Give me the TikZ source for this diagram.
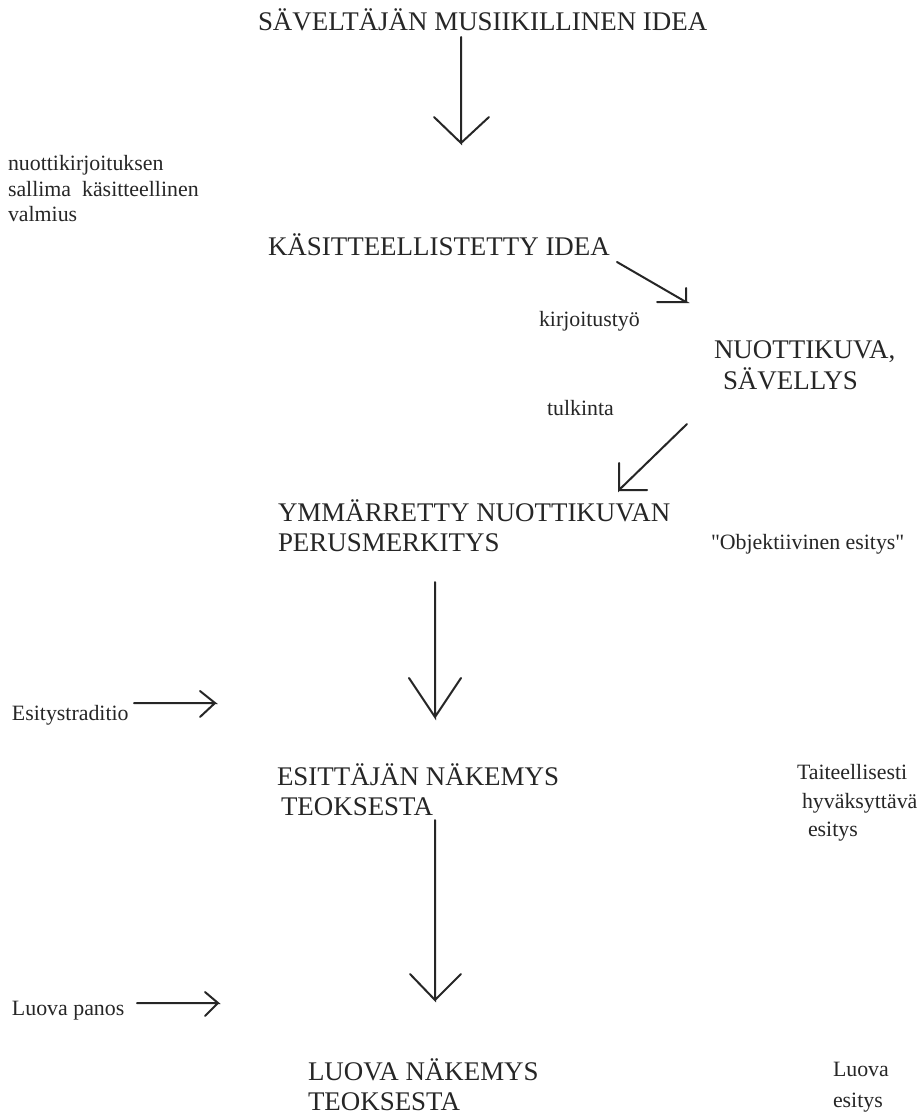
\documentclass[tikz,border=0pt]{standalone}
\usepackage{fontspec}
\setmainfont{Liberation Serif}
\newfontfamily\plainserif{Liberation Serif}
\definecolor{ink}{RGB}{38,38,38}
\begin{document}
\begin{tikzpicture}[x=0.75pt,y=-0.75pt,
  txt/.style={anchor=base west, inner sep=0pt, outer sep=0pt, text=ink},
  big/.style={txt, font=\fontsize{20.2}{24}\selectfont},
  small/.style={txt, font=\fontsize{16.4}{19}\selectfont},
  conn/.style={draw=ink, line width=1.5pt, line cap=round, line join=miter}]
\useasboundingbox[fill=white] (0,0) rectangle (923,1114);

% main column
\node[big] (idea)   at (258,30)  {SÄVELTÄJÄN MUSIIKILLINEN IDEA};
\node[big] (kasit)  at (268,255) {KÄSITTEELLISTETTY IDEA};
\node[big] (nuotti) at (714,358) {NUOTTIKUVA,};
\node[big] (savel)  at (723,389) {SÄVELLYS};
\node[big] (ymm)    at (278,521) {YMMÄRRETTY NUOTTIKUVAN};
\node[big] (perus)  at (278,551) {PERUSMERKITYS};
\node[big] (esitt)  at (277,785) {ESITTÄJÄN NÄKEMYS};
\node[big] (teos1)  at (281,815) {TEOKSESTA};
\node[big] (luova)  at (308,1080) {LUOVA NÄKEMYS};
\node[big] (teos2)  at (308,1110) {TEOKSESTA};

% side labels
\node[small] (note1) at (8,170) {nuottikirjoituksen};
\node[small] (note2) at (8,196) {sallima\ \ käsitteellinen};
\node[small] (note3) at (8,221) {valmius};
\node[small] (kirj)  at (539,326) {kirjoitustyö};
\node[small] (tulk)  at (547,415) {tulkinta};
\node[small, font=\plainserif\fontsize{16.4}{19}\selectfont] (obj) at (711,549) {"Objektiivinen esitys"};
\node[small] (trad)  at (12,720) {Esitystraditio};
\node[small] (taite) at (797,779) {Taiteellisesti};
\node[small] (hyva)  at (802,808) {hyväksyttävä};
\node[small] (esit1) at (808,836) {esitys};
\node[small] (panos) at (12,1015) {Luova panos};
\node[small] (luovr) at (833,1076) {Luova};
\node[small] (esit2) at (833,1107) {esitys};

% arrow end points
\coordinate (a1s) at (461,37);  \coordinate (a1e) at (461,143);
\coordinate (a2s) at (617,262); \coordinate (a2e) at (686,302);
\coordinate (a3s) at (687,424); \coordinate (a3e) at (619,490);
\coordinate (a4s) at (435,582); \coordinate (a4e) at (435,717);
\coordinate (a5s) at (435,820); \coordinate (a5e) at (435,1000);
\coordinate (h1s) at (134,703); \coordinate (h1e) at (215,703);
\coordinate (h2s) at (137,1003); \coordinate (h2e) at (218,1003);

% connectors with open heads
\draw[conn] (a1s) -- (a1e) -- +(-27,-26) (a1e) -- +(28,-26);
\draw[conn] (a2s) -- (a2e) -- +(-29,0) (a2e) -- +(0,-14);
\draw[conn] (a3s) -- (a3e) -- +(0,-27) (a3e) -- +(28,0);
\draw[conn] (a4s) -- (a4e) -- +(-26,-39) (a4e) -- +(26,-39);
\draw[conn] (a5s) -- (a5e) -- +(-25,-26) (a5e) -- +(26,-26);
\draw[conn] (h1s) -- (h1e) -- +(-15,-12) (h1e) -- +(-15,14);
\draw[conn] (h2s) -- (h2e) -- +(-13,-11) (h2e) -- +(-13,13);
\end{tikzpicture}
\end{document}
